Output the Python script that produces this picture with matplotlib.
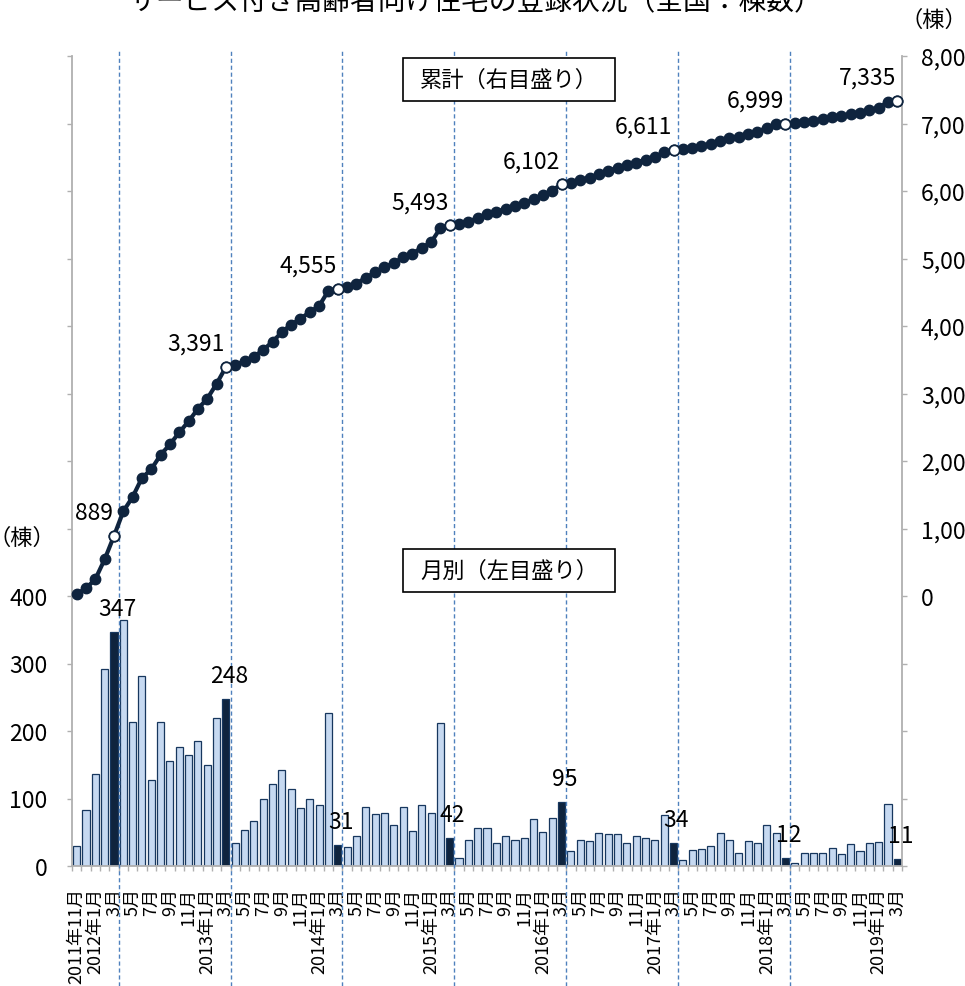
import numpy as np
import pandas as pd
import matplotlib
matplotlib.use('Agg')
import matplotlib.pyplot as plt
from matplotlib.patches import Rectangle

plt.rcParams['font.family'] = ['Noto Sans CJK JP', 'DejaVu Sans']

# ---------------- data ----------------
months = pd.period_range('2011-11', '2019-03', freq='M')

monthly = [
    30, 83, 137, 292, 347,                                   # 2011/11 - 2012/3
    365, 213, 282, 128, 214, 155, 177, 165, 185, 150, 220, 248,  # FY2012
    34, 54, 66, 100, 121, 142, 114, 86, 99, 91, 226, 31,          # FY2013
    28, 45, 88, 77, 78, 61, 87, 52, 90, 78, 212, 42,              # FY2014
    12, 39, 57, 56, 34, 44, 39, 41, 70, 51, 71, 95,               # FY2015
    22, 39, 37, 49, 47, 48, 34, 44, 41, 39, 75, 34,               # FY2016
    9, 23, 25, 30, 49, 39, 20, 37, 34, 61, 49, 12,                # FY2017
    5, 20, 20, 20, 26, 18, 32, 22, 34, 36, 92, 11,                # FY2018
]

cumulative = [
    30, 113, 250, 542, 889,
    1254, 1467, 1749, 1877, 2091, 2246, 2423, 2588, 2773, 2923, 3143, 3391,
    3425, 3479, 3545, 3645, 3766, 3908, 4022, 4108, 4207, 4298, 4524, 4555,
    4583, 4628, 4716, 4793, 4871, 4932, 5019, 5071, 5161, 5239, 5451, 5493,
    5505, 5544, 5601, 5657, 5691, 5735, 5774, 5815, 5885, 5936, 6007, 6102,
    6124, 6163, 6200, 6249, 6296, 6344, 6378, 6422, 6463, 6502, 6577, 6611,
    6620, 6643, 6668, 6698, 6747, 6786, 6806, 6843, 6877, 6938, 6987, 6999,
    7004, 7024, 7044, 7064, 7090, 7108, 7140, 7162, 7196, 7232, 7324, 7335,
]

title = 'サービス付き高齢者向け住宅の登録状況（全国：棟数）'
box_cum = '累計（右目盛り）'
box_month = '月別（左目盛り）'
unit = '（棟）'

# ---------------- style ----------------
NAVY = '#0f243e'
LIGHT = '#c6d9f1'
EDGE = '#17375e'
GRAY = '#b0b0b0'
DASH = '#4f81bd'

W, H = 965, 987
fig = plt.figure(figsize=(W / 100, H / 100), dpi=100)
L, R, T, B = 72, 902, 57, 867
ax = fig.add_axes([L / W, 1 - B / H, (R - L) / W, (B - T) / H])

x = np.arange(len(monthly))
monthly_a = np.array(monthly)
cum_a = np.array(cumulative)
is_march = np.array([p.month == 3 for p in months])

bar_colors = [NAVY if m else LIGHT for m in is_march]
ax.bar(x, monthly_a, width=0.76, color=bar_colors, edgecolor=EDGE,
       linewidth=0.9, zorder=2)

ax.set_xlim(-0.5, len(x) - 0.5)
ax.set_ylim(0, 1200)

yt = np.arange(0, 1201, 100)
ax.set_yticks(yt)
ax.set_yticklabels([f'{v:,}' if v <= 400 else '' for v in yt])
ax.tick_params(axis='y', length=3.6, width=1, color=GRAY, pad=14,
               labelsize=16.5)

tick_labels = []
for i, p in enumerate(months):
    if i % 2 == 0:
        if i == 0 or p.month == 1:
            tick_labels.append(f'{p.year}年{p.month}月')
        else:
            tick_labels.append(f'{p.month}月')
ax.set_xticks(x[::2])
ax.set_xticklabels(tick_labels, rotation=90, fontsize=13)
ax.tick_params(axis='x', which='major', length=0, pad=15)
ax.set_xticks(np.arange(-0.5, len(x), 1), minor=True)
ax.tick_params(axis='x', which='minor', length=3.6, width=1, color=GRAY)

for s in ['top', 'right']:
    ax.spines[s].set_visible(False)
for s in ['left', 'bottom']:
    ax.spines[s].set_color(GRAY)
    ax.spines[s].set_linewidth(1.3)

# monthly labels for March bars
for i in x[is_march]:
    ax.annotate(f'{monthly_a[i]}', (x[i], monthly_a[i]), xytext=(3, 17),
                textcoords='offset pixels', ha='center', va='baseline',
                fontsize=16.5, zorder=5)

# fiscal-year dashed separators
for i in x[is_march][:-1]:
    ax.plot([x[i] + 0.5, x[i] + 0.5], [-0.148, 1.009],
            transform=ax.get_xaxis_transform(), clip_on=False,
            color=DASH, lw=1, ls=(0, (3, 2)), zorder=3)

# cumulative line on right axis
ax2 = ax.twinx()
ax2.set_ylim(-4000, 8000)
yt2 = np.arange(-4000, 8001, 1000)
ax2.set_yticks(yt2)
ax2.set_yticklabels([f'{v:,}' if v >= 0 else '' for v in yt2])
ax2.tick_params(axis='y', length=3.6, width=1, color=GRAY, pad=10,
                labelsize=16.5)
for s in ['top', 'left', 'bottom']:
    ax2.spines[s].set_visible(False)
ax2.spines['right'].set_color(GRAY)
ax2.spines['right'].set_linewidth(1.3)

ax2.plot(x, cum_a, color=NAVY, lw=3, marker='o', ms=7.5, mfc=NAVY, mec=NAVY,
         zorder=3, clip_on=False)
ax2.plot(x[is_march], cum_a[is_march], ls='none', marker='o', ms=7.5,
         mfc='white', mec=NAVY, mew=1.3, zorder=4, clip_on=False)
for i in x[is_march]:
    ax2.annotate(f'{cum_a[i]:,}', (x[i], cum_a[i]), xytext=(-1, 17),
                 textcoords='offset pixels', ha='right', va='baseline',
                 fontsize=16.5, zorder=5)

# boxes
for (bx0, by0, bx1, by1, txt) in [(403, 59, 615, 102, box_cum),
                                  (403, 550, 615, 593, box_month)]:
    fig.patches.append(Rectangle((bx0 / W, 1 - by1 / H), (bx1 - bx0) / W,
                                 (by1 - by0) / H, transform=fig.transFigure,
                                 facecolor='white', edgecolor='black',
                                 lw=1.2, zorder=5))
    fig.text((bx0 + bx1) / 2 / W, 1 - (by0 + by1) / 2 / H, txt,
             ha='center', va='center', fontsize=16, zorder=6)

# titles / units
fig.text(475 / W, 1 - 2 / H, title, ha='center', va='center', fontsize=20)
fig.text(900 / W, 1 - 20 / H, unit, ha='left', va='center', fontsize=16)
fig.text(22 / W, 1 - 538 / H, unit, ha='center', va='center', fontsize=16)

fig.savefig('out.png', dpi=100)
